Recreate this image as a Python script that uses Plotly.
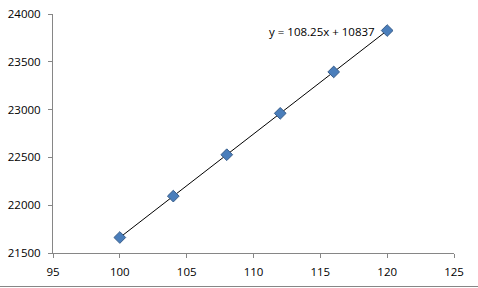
import numpy as np
import plotly.graph_objects as go

x_vals = [100, 104, 108, 112, 116, 120]
y_vals = [21662, 22095, 22528, 22961, 23394, 23827]
x_ticks = [95, 100, 105, 110, 115, 120, 125]
y_ticks = [21500, 22000, 22500, 23000, 23500, 24000]
equation = "y = 108.25x + 10837"

slope, intercept = np.polyfit(x_vals, y_vals, 1)
trend_x = [min(x_vals), max(x_vals)]
trend_y = [slope * v + intercept for v in trend_x]

W, H = 478, 288
L, R, T, B = 53, 24, 14, 35
pw, ph = W - L - R, H - T - B

fig = go.Figure()
fig.add_trace(go.Scatter(x=trend_x, y=trend_y, mode="lines",
                         line=dict(color="#000000", width=1), hoverinfo="skip"))
fig.add_trace(go.Scatter(x=x_vals, y=y_vals, mode="markers",
                         marker=dict(symbol="diamond", size=9, color="#4A7EBB",
                                     line=dict(color="#385D8A", width=1))))

font = dict(family="Open Sans", size=11.5, color="#000000")
fig.update_layout(
    width=W, height=H, showlegend=False,
    margin=dict(l=L, r=R, t=T, b=B, pad=0, autoexpand=False),
    paper_bgcolor="white", plot_bgcolor="white",
    font=font,
    xaxis=dict(range=[95, 125], tickvals=x_ticks, ticktext=[str(v) for v in x_ticks],
               showgrid=False, zeroline=False, automargin=False,
               showline=True, linecolor="#868686", linewidth=1,
               ticks="outside", ticklen=4, tickcolor="#868686", tickfont=font,
               ticklabelstandoff=4),
    yaxis=dict(range=[21500, 24000], tickvals=y_ticks, ticktext=[str(v) for v in y_ticks],
               showgrid=False, zeroline=False, automargin=False,
               showline=True, linecolor="#868686", linewidth=1,
               ticks="outside", ticklen=4, tickcolor="#868686", tickfont=font,
               ticklabelstandoff=5),
    annotations=[dict(x=111.0, y=23812, xref="x", yref="y", text=equation,
                      showarrow=False, xanchor="left", yanchor="middle", font=font)],
    shapes=[dict(type="line", xref="paper", yref="paper",
                 x0=-L / pw, x1=(W - L) / pw,
                 y0=(T + ph - 286.5) / ph, y1=(T + ph - 286.5) / ph,
                 line=dict(color="#868686", width=1))],
)
fig.write_html("out.html")
